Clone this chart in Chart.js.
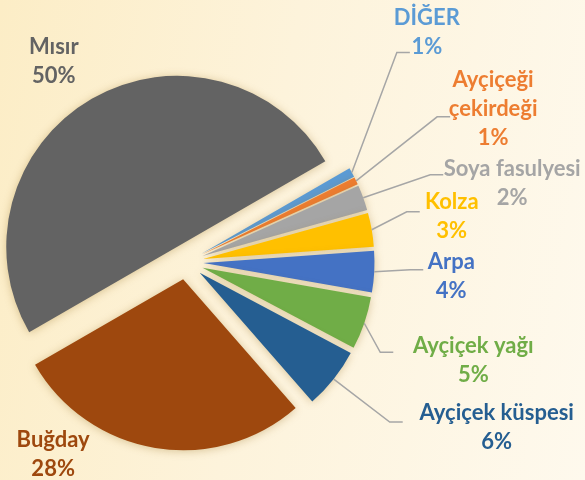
<!DOCTYPE html>
<html>
<head>
<meta charset="utf-8">
<script src="https://cdn.jsdelivr.net/npm/chart.js@4.4.1/dist/chart.umd.min.js"></script>
<style>
  html, body { margin: 0; padding: 0; }
  body {
    width: 585px; height: 480px; overflow: hidden;
    background: linear-gradient(100deg, #fcedc6 0%, #fdf3db 45%, #fef9ed 100%);
  }
  #wrap { position: relative; width: 585px; height: 480px; }
</style>
</head>
<body>
<div id="wrap"><canvas id="myChart"></canvas></div>
<script>
// data
const labels = ['Mısır', 'DİĞER', 'Ayçiçeği\nçekirdeği', 'Soya fasulyesi', 'Kolza', 'Arpa', 'Ayçiçek yağı', 'Ayçiçek küspesi', 'Buğday'];
const values = [50.0, 0.9, 0.7, 2.4, 3.2, 3.9, 5.0, 5.8, 28.1];

const colors = ['#636363', '#5b9bd5', '#ed7d31', '#a5a5a5', '#ffc000', '#4472c4', '#70ad47', '#255e91', '#9e480e'];

// label placement, relative to the outer middle of each slice
const labelOffset = [[-38, -37], [75, -140], [137, -72], [149, -14], [80, -13], [77, 5], [109, 37], [163, 48], [-102, 6]];
const leaderEnd = [null, [58, -120], [94, -64], [80, -23], [48, -18], [49, -2], [29, 29], [69, 43], null];

const pullOut = 17.5;
const lineH = 29;

const explode = {
    id: 'explode',
    afterDatasetUpdate(chart, args) {
        const meta = chart.getDatasetMeta(args.index);
        meta.data.forEach(arc => {
            const mid = (arc.startAngle + arc.endAngle) / 2;
            arc.x += pullOut * Math.cos(mid);
            arc.y += pullOut * Math.sin(mid);
        });
    }
};

const shadow = {
    id: 'shadow',
    beforeDatasetDraw(chart) {
        const c = chart.ctx;
        c.save();
        c.shadowColor = 'rgba(150, 110, 30, 0.35)';
        c.shadowBlur = 9;
        c.shadowOffsetY = 1;
    },
    afterDatasetDraw(chart) {
        chart.ctx.restore();
    }
};

const sliceLabels = {
    id: 'sliceLabels',
    afterDatasetsDraw(chart) {
        const c = chart.ctx;
        const arcs = chart.getDatasetMeta(0).data;
        const total = values.reduce((a, b) => a + b, 0);
        c.save();
        arcs.forEach((arc, i) => {
            const mid = (arc.startAngle + arc.endAngle) / 2;
            const px = arc.x + arc.outerRadius * Math.cos(mid);
            const py = arc.y + arc.outerRadius * Math.sin(mid);

            if (leaderEnd[i]) {
                const ex = px + leaderEnd[i][0];
                const ey = py + leaderEnd[i][1];
                c.strokeStyle = '#a6a6a6';
                c.lineWidth = 1.5;
                c.beginPath();
                c.moveTo(px, py);
                c.lineTo(ex - 13, ey);
                c.lineTo(ex, ey);
                c.stroke();
            }

            const lines = labels[i].split('\n');
            lines.push(Math.round(values[i] / total * 100) + '%');
            const lx = px + labelOffset[i][0];
            const ly = py + labelOffset[i][1];
            c.fillStyle = colors[i];
            c.font = 'bold 22px Lato';
            c.textAlign = 'center';
            c.textBaseline = 'middle';
            lines.forEach((t, k) => {
                c.fillText(t, lx, ly + (k - (lines.length - 1) / 2) * lineH);
            });
        });
        c.restore();
    }
};

const ctx = document.getElementById('myChart');
const myChart = new Chart(ctx, {
    type: 'pie',
    data: {
        labels: labels,
        datasets: [{
            data: values,
            backgroundColor: colors,
            borderWidth: 0
        }]
    },
    options: {
        responsive: true,
        maintainAspectRatio: false,
        animation: false,
        events: [],
        rotation: 240,
        radius: 171,
        layout: { padding: { left: 0, right: 213, top: 44, bottom: 0 } },
        plugins: {
            legend: { display: false },
            tooltip: { enabled: false }
        }
    },
    plugins: [explode, shadow, sliceLabels]
});
</script>
</body>
</html>
